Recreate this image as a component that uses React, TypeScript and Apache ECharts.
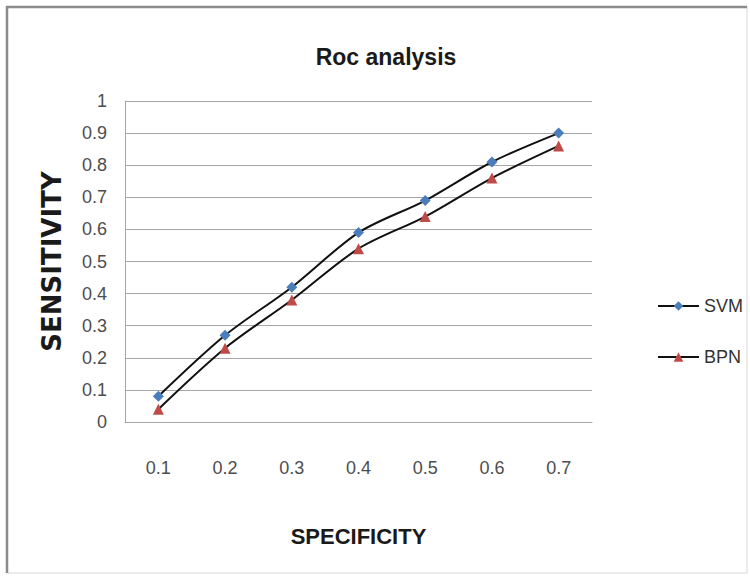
import React, { useEffect, useRef } from "react";
import * as echarts from "echarts";

const categories = ["0.1", "0.2", "0.3", "0.4", "0.5", "0.6", "0.7"];
const svmValues = [0.08, 0.27, 0.42, 0.59, 0.69, 0.81, 0.9];
const bpnValues = [0.04, 0.23, 0.38, 0.54, 0.64, 0.76, 0.86];
const seriesNames = ["SVM", "BPN"];

const FONT = '"Liberation Sans", Arial, sans-serif';

export default function App() {
  const ref = useRef<HTMLDivElement>(null);

  useEffect(() => {
    document.body.style.margin = "0";
    const chart = echarts.init(ref.current!, undefined, { renderer: "svg" });
    chart.setOption({
      animation: false,
      backgroundColor: "#ffffff",
      title: {
        text: "Roc analysis",
        left: 381,
        textAlign: "center",
        top: 40,
        textStyle: { fontFamily: FONT, fontSize: 23, fontWeight: "bold", color: "#1a1a1a" },
      },
      legend: {
        orient: "vertical",
        left: 657,
        top: 297,
        padding: 0,
        itemWidth: 41,
        itemHeight: 12,
        itemGap: 33,
        data: seriesNames,
        textStyle: { fontFamily: FONT, fontSize: 18, color: "#333333" },
      },
      grid: { left: 125, right: 158, top: 101, bottom: 159, containLabel: false },
      xAxis: {
        type: "category",
        data: categories,
        boundaryGap: true,
        name: "SPECIFICITY",
        nameLocation: "middle",
        nameGap: 103,
        nameTextStyle: { fontFamily: FONT, fontSize: 22, fontWeight: "bold", color: "#1a1a1a" },
        axisLine: { lineStyle: { color: "#a6a6a6", width: 1 } },
        axisTick: { show: false },
        axisLabel: { margin: 37, fontFamily: FONT, fontSize: 18, color: "#4d4d4d" },
      },
      yAxis: {
        type: "value",
        min: 0,
        max: 1,
        interval: 0.1,
        name: "SENSITIVITY",
        nameLocation: "middle",
        nameGap: 60,
        nameRotate: 90,
        nameTextStyle: { fontFamily: '"DejaVu Sans", Verdana, sans-serif', fontSize: 26, fontWeight: "bold", color: "#1a1a1a" },
        axisLine: { show: true, lineStyle: { color: "#a6a6a6", width: 1 } },
        axisTick: { show: false },
        splitLine: { lineStyle: { color: "#a6a6a6", width: 1 } },
        axisLabel: {
          margin: 18,
          fontFamily: FONT,
          fontSize: 18,
          color: "#4d4d4d",
          formatter: (v: number) => String(Math.round(v * 10) / 10),
        },
      },
      series: [
        {
          name: seriesNames[0],
          type: "line",
          data: svmValues,
          smooth: 0.3,
          symbol: "diamond",
          symbolSize: 11,
          lineStyle: { color: "#111111", width: 2 },
          itemStyle: { color: "#4a7ebb" },
        },
        {
          name: seriesNames[1],
          type: "line",
          data: bpnValues,
          smooth: 0.3,
          symbol: "triangle",
          symbolSize: 11,
          lineStyle: { color: "#111111", width: 2 },
          itemStyle: { color: "#be4b48" },
        },
      ],
      graphic: [
        {
          type: "rect",
          shape: { x: 7, y: 7, width: 740, height: 566 },
          style: { fill: "none", stroke: "#e6e6e6", lineWidth: 1.5 },
          silent: true,
        },
        {
          type: "polyline",
          shape: { points: [[7, 573], [7, 7], [747, 7]] },
          style: { fill: "none", stroke: "#8c8c8c", lineWidth: 2.5 },
          silent: true,
        },
      ],
    });
    return () => chart.dispose();
  }, []);

  return <div ref={ref} style={{ width: 750, height: 581, position: "fixed", left: 0, top: 0 }} />;
}
